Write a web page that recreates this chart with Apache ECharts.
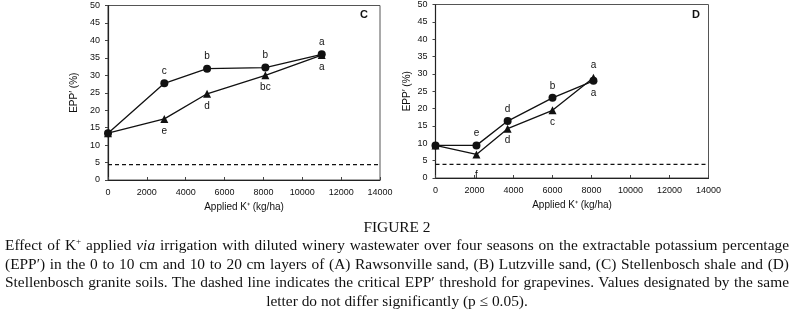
<!DOCTYPE html>
<html>
<head>
<meta charset="utf-8">
<script src="https://cdn.jsdelivr.net/npm/echarts@6/dist/echarts.min.js"></script>
<style>
  html, body { margin: 0; padding: 0; background: #fff; }
  #wrap { position: relative; width: 792px; height: 321px; }
  #chart { position: absolute; left: 0; top: 0; width: 792px; height: 321px; }
  .cap { position: absolute; left: 5px; width: 784px; height: 18px; line-height: 18px;
         font-family: "Liberation Serif", "Times New Roman", serif; font-size: 15.4px; color: #111;
         white-space: nowrap; text-align: justify; text-align-last: justify; }
  .cap.center { text-align: center; text-align-last: center; }
  .cap sup { font-size: 9px; vertical-align: 6px; line-height: 0; }
</style>
</head>
<body>
<div id="wrap">
  <div id="chart"></div>
  <div class="cap center" style="top:218px">FIGURE 2</div>
  <div class="cap" style="top:236px">Effect of K<sup>+</sup> applied <i>via</i> irrigation with diluted winery wastewater over four seasons on the extractable potassium percentage</div>
  <div class="cap" style="top:254.5px">(EPP′) in the 0 to 10 cm and 10 to 20 cm layers of (A) Rawsonville sand, (B) Lutzville sand, (C) Stellenbosch shale and (D)</div>
  <div class="cap" style="top:273px">Stellenbosch granite soils. The dashed line indicates the critical EPP′ threshold for grapevines. Values designated by the same</div>
  <div class="cap center" style="top:292px">letter do not differ significantly (p ≤ 0.05).</div>
</div>
<script>
// panel C - Stellenbosch shale
var xC = [0, 2900, 5100, 8100, 11000];
var circleC = [13.4, 27.7, 31.9, 32.2, 36.0];
var triangleC = [13.4, 17.5, 24.7, 30.0, 35.8];
var circleLettersC = ["", "c", "b", "b", "a"];
var triangleLettersC = ["", "e", "d", "bc", "a"];
var thresholdC = 4.4;

// panel D - Stellenbosch granite
var xD = [0, 2100, 3700, 6000, 8100];
var circleD = [9.4, 9.4, 16.4, 23.1, 28.0];
var triangleD = [9.4, 6.8, 14.2, 19.5, 28.9];
var circleLettersD = ["", "e", "d", "b", "a"];
var triangleLettersD = ["", "f", "d", "c", "a"];
var thresholdD = 3.9;

var xTicks = [0, 2000, 4000, 6000, 8000, 10000, 12000, 14000];
var yTicks = [0, 5, 10, 15, 20, 25, 30, 35, 40, 45, 50];

var font = "Liberation Sans, Arial, sans-serif";
var ink = "#111";

// letters sit above circles and below triangles, except where noted
function points(xs, ys, letters, pos, special) {
  return xs.map(function (x, i) {
    var p = pos, dist = 3;
    if (special && special[i]) {
      p = special[i].position || p;
      dist = special[i].distance != null ? special[i].distance : dist;
    }
    return {
      value: [x, ys[i]],
      label: { show: letters[i] !== "", formatter: letters[i], position: p, distance: dist }
    };
  });
}

function dataSeries(idx, symbol, size, data) {
  return {
    type: "line",
    xAxisIndex: idx,
    yAxisIndex: idx,
    symbol: symbol,
    symbolSize: size,
    showAllSymbol: true,
    lineStyle: { color: ink, width: 1.3 },
    itemStyle: { color: ink },
    label: { color: ink, fontSize: 10, fontFamily: font },
    data: data,
    animation: false,
    z: 3
  };
}

function thresholdSeries(idx, value) {
  return {
    type: "line",
    xAxisIndex: idx,
    yAxisIndex: idx,
    symbol: "none",
    lineStyle: { color: ink, width: 1.2, type: [4, 3] },
    data: [[xTicks[0], value], [xTicks[xTicks.length - 1], value]],
    animation: false,
    silent: true
  };
}

function xAxis(idx, gap) {
  return {
    type: "value",
    gridIndex: idx,
    min: xTicks[0], max: xTicks[xTicks.length - 1], interval: xTicks[1] - xTicks[0],
    name: "Applied K⁺ (kg/ha)",
    nameLocation: "middle",
    nameGap: gap,
    nameTextStyle: { color: ink, fontSize: 10, fontFamily: font },
    axisLine: { show: true, lineStyle: { color: "#222", width: 1.2 } },
    axisTick: { show: true, inside: true, length: 3, lineStyle: { color: "#444" } },
    axisLabel: { color: ink, fontSize: 9, fontFamily: font, margin: 8,
      formatter: function (v) { return String(v); } },
    splitLine: { show: false }
  };
}

function yAxis(idx, gap) {
  return {
    type: "value",
    gridIndex: idx,
    min: yTicks[0], max: yTicks[yTicks.length - 1], interval: yTicks[1] - yTicks[0],
    name: "EPP′ (%)",
    nameLocation: "middle",
    nameGap: gap,
    nameTextStyle: { color: ink, fontSize: 10, fontFamily: font },
    axisLine: { show: true, lineStyle: { color: "#222", width: 1.2 } },
    axisTick: { show: true, length: 3, lineStyle: { color: "#444" } },
    axisLabel: { color: ink, fontSize: 9, fontFamily: font, margin: 8 },
    splitLine: { show: false }
  };
}

var chart = echarts.init(document.getElementById("chart"), null, { renderer: "canvas" });

var option = {
  backgroundColor: "#fff",
  grid: [
    { left: 108, top: 5.5, width: 272, height: 174.5, show: true, borderColor: "#555", borderWidth: 1 },
    { left: 435.5, top: 4, width: 273, height: 174, show: true, borderColor: "#555", borderWidth: 1 }
  ],
  xAxis: [xAxis(0, 13), xAxis(1, 16)],
  yAxis: [yAxis(0, 29), yAxis(1, 23)],
  graphic: [
    { type: "text", left: 360, top: 9, style: { text: "C", font: "bold 11px " + font, fill: ink } },
    { type: "text", left: 692, top: 9, style: { text: "D", font: "bold 11px " + font, fill: ink } }
  ],
  series: [
    thresholdSeries(0, thresholdC),
    dataSeries(0, "circle", 8, points(xC, circleC, circleLettersC, "top")),
    dataSeries(0, "triangle", 8, points(xC, triangleC, triangleLettersC, "bottom")),
    thresholdSeries(1, thresholdD),
    dataSeries(1, "circle", 8, points(xD, circleD, circleLettersD, "top", { 4: { position: "bottom" } })),
    dataSeries(1, "triangle", 8, points(xD, triangleD, triangleLettersD, "bottom", { 1: { distance: 12 }, 4: { position: "top" } }))
  ]
};

chart.setOption(option);
</script>
</body>
</html>
